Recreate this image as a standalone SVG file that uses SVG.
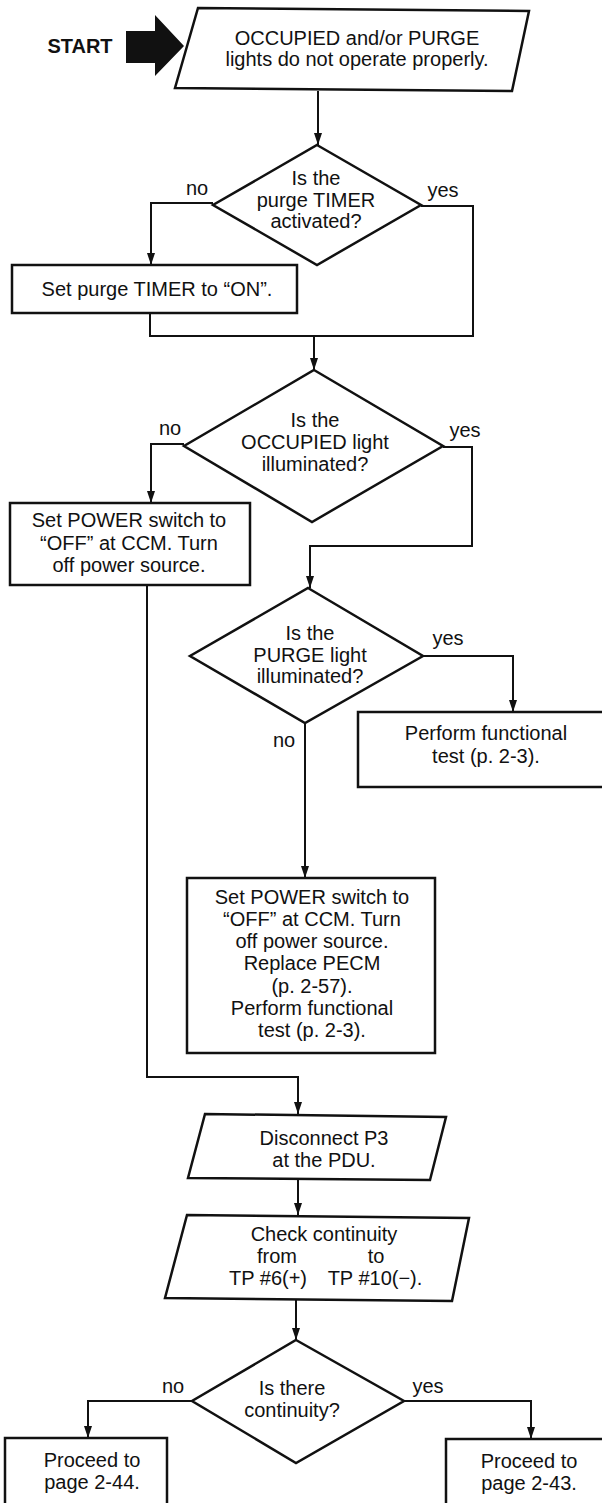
<svg xmlns="http://www.w3.org/2000/svg" width="602" height="1503" viewBox="0 0 602 1503">
<defs>
<marker id="ah" viewBox="0 0 12 8" refX="12" refY="4" markerWidth="12" markerHeight="8" orient="auto" markerUnits="userSpaceOnUse">
<path d="M0,0 L12,4 L0,8 z" fill="#111"/>
</marker>
<style>
.s{fill:#fff;stroke:#111;stroke-width:2.5}
.c{fill:none;stroke:#111;stroke-width:2}
text{font-family:"Liberation Sans",Arial,sans-serif;font-size:20px;fill:#111;text-anchor:middle}
.b{font-weight:bold;font-size:20px}
</style>
</defs>
<rect width="602" height="1503" fill="#fff"/>
<g id="connectors">
<path class="c" d="M318,91 V145" marker-end="url(#ah)"/>
<path class="c" d="M213,203 H151 V265" marker-end="url(#ah)"/>
<path class="c" d="M421,206 H473 V336 H150 V314"/>
<path class="c" d="M314,336 V370" marker-end="url(#ah)"/>
<path class="c" d="M184,444 H151 V503" marker-end="url(#ah)"/>
<path class="c" d="M443,447 H472 V546 H310 V588" marker-end="url(#ah)"/>
<path class="c" d="M423,656 H513 V712" marker-end="url(#ah)"/>
<path class="c" d="M305,723 V878" marker-end="url(#ah)"/>
<path class="c" d="M147,586 V1077 H298 V1114" marker-end="url(#ah)"/>
<path class="c" d="M298,1180 V1215" marker-end="url(#ah)"/>
<path class="c" d="M296,1300 V1340" marker-end="url(#ah)"/>
<path class="c" d="M192,1401 H88 V1438" marker-end="url(#ah)"/>
<path class="c" d="M404,1401 H531 V1439" marker-end="url(#ah)"/>
</g>
<g id="labels">
<text x="197" y="195">no</text>
<text x="443" y="197">yes</text>
<text x="170" y="435">no</text>
<text x="465" y="437">yes</text>
<text x="448" y="645">yes</text>
<text x="284" y="747">no</text>
<text x="173" y="1393">no</text>
<text x="428" y="1393">yes</text>
</g>
<g id="start">
<text class="b" x="80" y="53">START</text>
<polygon points="126,31 155,31 155,15 184,46 155,76 155,63 126,63" fill="#111"/>
</g>
<g id="n1">
<polygon class="s" points="198,8 529,11 512,91 175,88"/>
<text x="357" y="45">OCCUPIED and/or PURGE</text>
<text x="357" y="66">lights do not operate properly.</text>
</g>
<g id="d1">
<polygon class="s" points="317,145 421,205 317,265 213,205"/>
<text x="316" y="185">Is the</text>
<text x="316" y="207">purge TIMER</text>
<text x="316" y="228">activated?</text>
</g>
<g id="b1">
<rect class="s" x="12" y="265" width="285" height="48"/>
<text x="157" y="296">Set purge TIMER to “ON”.</text>
</g>
<g id="d2">
<polygon class="s" points="314,370 443,446 312,522 184,446"/>
<text x="315" y="427">Is the</text>
<text x="315" y="449">OCCUPIED light</text>
<text x="315" y="471">illuminated?</text>
</g>
<g id="b2">
<rect class="s" x="10" y="503" width="240" height="82"/>
<text x="129" y="527">Set POWER switch to</text>
<text x="129" y="550">“OFF” at CCM. Turn</text>
<text x="129" y="572">off power source.</text>
</g>
<g id="d3">
<polygon class="s" points="308,588 423,656 305,723 190,656"/>
<text x="310" y="640">Is the</text>
<text x="310" y="662">PURGE light</text>
<text x="310" y="683">illuminated?</text>
</g>
<g id="b3">
<rect class="s" x="358" y="712" width="262" height="75"/>
<text x="486" y="740">Perform functional</text>
<text x="486" y="763">test (p. 2-3).</text>
</g>
<g id="b4">
<rect class="s" x="187" y="878" width="248" height="175"/>
<text x="312" y="904">Set POWER switch to</text>
<text x="312" y="926">“OFF” at CCM. Turn</text>
<text x="312" y="948">off power source.</text>
<text x="312" y="970">Replace PECM</text>
<text x="312" y="993">(p. 2-57).</text>
<text x="312" y="1015">Perform functional</text>
<text x="312" y="1037">test (p. 2-3).</text>
</g>
<g id="n5">
<polygon class="s" points="205,1114 446,1117 430,1180 188,1178"/>
<text x="324" y="1145">Disconnect P3</text>
<text x="324" y="1167">at the PDU.</text>
</g>
<g id="n6">
<polygon class="s" points="187,1215 469,1218 452,1301 165,1298"/>
<text x="324" y="1241">Check continuity</text>
<text x="277" y="1263">from</text>
<text x="376" y="1263">to</text>
<text x="268" y="1285">TP #6(+)</text>
<text x="375" y="1285">TP #10(−).</text>
</g>
<g id="d4">
<polygon class="s" points="296,1340 404,1401 296,1463 192,1401"/>
<text x="292" y="1395">Is there</text>
<text x="292" y="1417">continuity?</text>
</g>
<g id="b5">
<rect class="s" x="5" y="1438" width="162" height="80"/>
<text x="92" y="1467">Proceed to</text>
<text x="92" y="1489">page 2-44.</text>
</g>
<g id="b6">
<rect class="s" x="446" y="1439" width="170" height="80"/>
<text x="529" y="1468">Proceed to</text>
<text x="529" y="1490">page 2-43.</text>
</g>
</svg>
